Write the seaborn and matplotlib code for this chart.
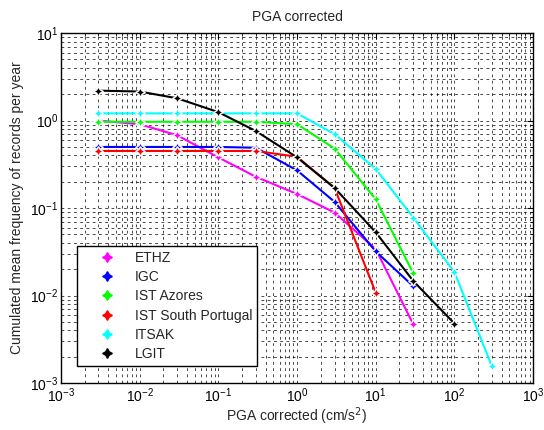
import numpy as np
import pandas as pd
import matplotlib
matplotlib.use('Agg')
import matplotlib.pyplot as plt
import seaborn as sns

# PGA thresholds (cm/s^2)
pga = [0.003, 0.01, 0.03, 0.1, 0.3, 1, 3, 10, 30, 100, 300]

# cumulated mean frequency per year
ethz = [1.0, 0.91, 0.68, 0.38, 0.228, 0.145, 0.089, 0.034, 0.0047]
igc = [0.50, 0.50, 0.50, 0.50, 0.49, 0.27, 0.118, 0.032, 0.0128]
ist_azores = [0.97, 0.97, 0.97, 0.97, 0.97, 0.91, 0.48, 0.126, 0.018]
ist_south = [0.45, 0.45, 0.45, 0.45, 0.45, 0.386, 0.17, 0.0108]
itsak = [1.21, 1.21, 1.21, 1.21, 1.21, 1.21, 0.70, 0.28, 0.078, 0.0186, 0.00155]
lgit = [2.2, 2.15, 1.8, 1.25, 0.76, 0.38, 0.17, 0.053, 0.0147, 0.0048]

series = {
    'ETHZ': (ethz, 'magenta'),
    'IGC': (igc, 'blue'),
    'IST Azores': (ist_azores, 'lime'),
    'IST South Portugal': (ist_south, 'red'),
    'ITSAK': (itsak, 'cyan'),
    'LGIT': (lgit, 'black'),
}

rows = []
for name, (vals, col) in series.items():
    for x, y in zip(pga, vals):
        rows.append({'PGA': x, 'freq': y, 'source': name})
df = pd.DataFrame(rows)

sns.set_style('white')
plt.rcParams['font.family'] = ['Liberation Sans', 'DejaVu Sans']

fig = plt.figure(figsize=(5.44, 4.3), dpi=100)
ax = fig.add_axes([0.112, 0.109, 0.868, 0.814])

palette = {k: v[1] for k, v in series.items()}
sns.lineplot(data=df, x='PGA', y='freq', hue='source', palette=palette,
             marker=(4, 1, 0), markersize=7, markeredgewidth=1.0,
             linewidth=1.5, sort=False, legend=False, ax=ax)

ax.set_xscale('log')
ax.set_yscale('log')
ax.set_xlim(1e-3, 1e3)
ax.set_ylim(1e-3, 1e1)

ax.grid(True, which='both', color='black', linestyle=(0, (4, 5)), linewidth=0.5)
ax.tick_params(which='both', direction='in', top=True, right=True,
               labelsize=10, colors='black', pad=2)
ax.tick_params(which='major', length=4)
ax.tick_params(which='minor', length=2)
for s in ax.spines.values():
    s.set_color('black')
    s.set_linewidth(1.0)

ax.set_title('PGA corrected', fontsize=10, pad=9)
ax.set_xlabel('PGA corrected (cm/s$^2$)', fontsize=10, labelpad=1)
ax.set_ylabel('Cumulated mean frequency of records per year', fontsize=10,
              labelpad=4)

# legend shows markers only
handles = [plt.Line2D([], [], linestyle='none', marker=(4, 1, 0), markersize=7,
                      markeredgewidth=1.0, color=c, markerfacecolor=c)
           for _, (_, c) in series.items()]
leg = ax.legend(handles, list(series.keys()), loc='lower left',
                bbox_to_anchor=(0.034, 0.049), fontsize=10, frameon=True,
                fancybox=False, edgecolor='black', framealpha=1,
                handlelength=3.6, handletextpad=0.2, borderpad=0.35,
                labelspacing=0.38, borderaxespad=0)
leg.get_frame().set_linewidth(1.0)

fig.savefig('out.png', dpi=100)
